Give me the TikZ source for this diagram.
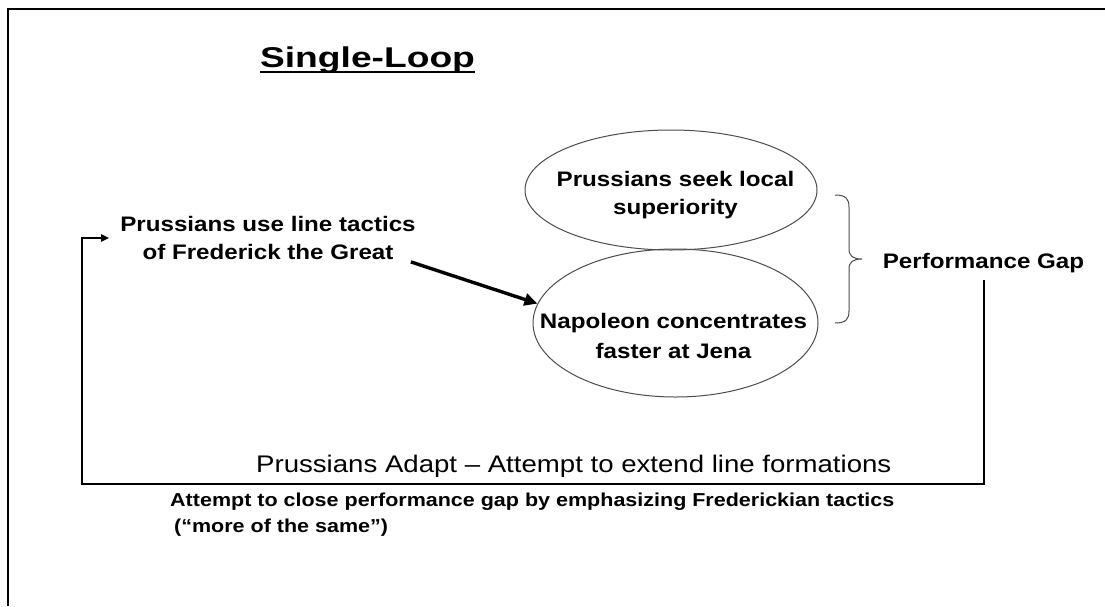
\documentclass[tikz,border=0pt]{standalone}
\usepackage{fontspec}
\setmainfont{Liberation Sans}[FakeStretch=1.15]
\newfontfamily\titlefont{Liberation Sans}[FakeStretch=1.3]
\usetikzlibrary{shapes.geometric,arrows.meta}
\begin{document}
\begin{tikzpicture}[x=1pt,y=-1pt,
  boldtxt/.style={font=\bfseries\fontsize{21}{28}\selectfont, align=center, inner sep=0pt},
  oval/.style={ellipse, draw=black!70, line width=1pt, inner sep=0pt},
  loopline/.style={draw=black, line width=2pt, -{Triangle[length=8pt,width=7pt]}},
  push/.style={line width=3.4pt, -{Triangle[length=13pt,width=12pt]}},
  bracestyle/.style={draw=black!70, line width=1pt}]
\useasboundingbox (0,0) rectangle (1105,606);
\fill[white] (0,0) rectangle (1105,606);

% slide frame
\draw[line width=2pt] (8,606) -- (8,9) -- (1105,9);

% title
\node[font=\titlefont\bfseries\fontsize{28.6}{34}\selectfont, anchor=base, inner sep=0pt]
  (title) at (367.5,67) {Single-Loop};
\draw[line width=2.4pt] ([yshift=-5pt]title.base west) -- ([yshift=-5pt]title.base east);

% starting situation
\node[boldtxt] (tactics) at (268,238) {Prussians use line tactics\\of Frederick the Great};

% outcomes
\node[oval, minimum width=292pt, minimum height=120pt] (seek) at (671,190) {};
\node[boldtxt] (seekTxt) at (675.5,195.5) {Prussians seek local\\superiority};
\node[oval, minimum width=285pt, minimum height=148pt] (nap) at (675.5,323) {};
\node[boldtxt, font=\bfseries\fontsize{21}{30}\selectfont] (napTxt) at (673.5,336) {Napoleon concentrates\\faster at Jena};

\draw[push] ([xshift=-5pt,yshift=-2pt]tactics.south east) -- (nap.172);

% brace grouping the two outcomes
\draw[bracestyle] (835,195) .. controls (846,195) and (849,199) .. (849,207)
  -- (849,249) .. controls (849,256) and (853,259) .. (862,259)
  .. controls (853,259) and (849,262) .. (849,269)
  -- (849,311) .. controls (849,319) and (846,323) .. (835,323);

\node[boldtxt, anchor=base] (gap) at (983.5,268) {Performance Gap};

% feedback loop
\coordinate (loopR) at (983.5,484);
\coordinate (loopL) at (82,484);
\draw[loopline, shorten <=7pt, shorten >=11pt] (gap.south) -- (loopR) -- (loopL) |- (tactics.west);

\node[font=\fontsize{24}{28}\selectfont, anchor=base west, inner sep=0pt] (adapt) at (256,472)
  {Prussians Adapt – Attempt to extend line formations};
\node[font=\bfseries\fontsize{18.7}{26}\selectfont, align=left, anchor=north west, inner sep=0pt] (close) at (170,493)
  {Attempt to close performance gap by emphasizing Frederickian tactics\\
   \hspace*{4pt}(“more of the same”)};
\end{tikzpicture}
\end{document}
